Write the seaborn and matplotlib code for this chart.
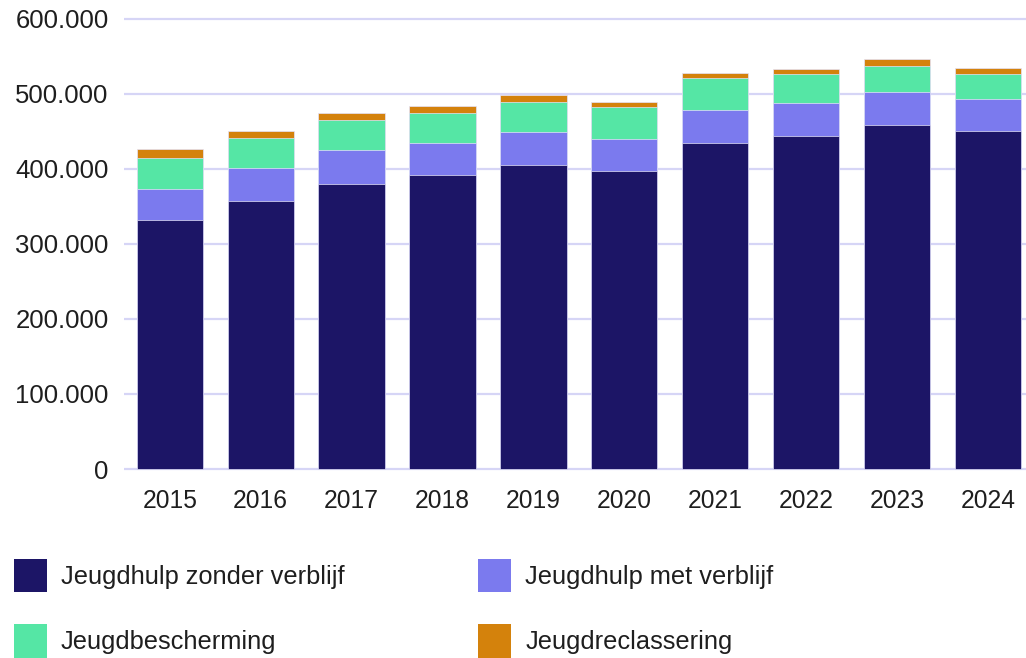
import numpy as np
import pandas as pd
import matplotlib
matplotlib.use("Agg")
import matplotlib.pyplot as plt
import seaborn as sns
from matplotlib.patches import Patch
from matplotlib.ticker import FuncFormatter

years = ["2015", "2016", "2017", "2018", "2019", "2020", "2021", "2022", "2023", "2024"]
zonder_verblijf = [331500, 357300, 379400, 391900, 405100, 397600, 434400, 443300, 457900, 450800]
met_verblijf = [42200, 43900, 45700, 42000, 43500, 42100, 43900, 43800, 43900, 42100]
bescherming = [40300, 40300, 39900, 40400, 40400, 42100, 42100, 38600, 35000, 32800]
reclassering = [12900, 9300, 9300, 9300, 9300, 7600, 7100, 7100, 8900, 8900]

series = ["Jeugdhulp zonder verblijf", "Jeugdhulp met verblijf", "Jeugdbescherming", "Jeugdreclassering"]
colors = ["#1C1566", "#7B7AEE", "#55E6A5", "#D4820C"]

df = pd.DataFrame({
    "Jaar": years,
    series[0]: zonder_verblijf,
    series[1]: met_verblijf,
    series[2]: bescherming,
    series[3]: reclassering,
})
cum = df[series].cumsum(axis=1)

sns.set_theme(style="white")
plt.rcParams["font.family"] = ["Liberation Sans", "DejaVu Sans"]
text_color = "#1e1e1e"

fig = plt.figure(figsize=(10.26, 6.58), dpi=100)
ax = fig.add_axes([0.1209, 0.2838, 0.8791, 0.6923])

# stacked bars: draw cumulative totals from top segment down
for name, color in reversed(list(zip(series, colors))):
    sns.barplot(x=df["Jaar"], y=cum[name], color=color, saturation=1, width=0.73,
                edgecolor="#E4E3FA", linewidth=0.5, ax=ax, zorder=3)

ax.set_ylim(-3000, 604000)
ax.set_xlim(-0.504, 9.42)
ax.set_yticks(np.arange(0, 600001, 100000))
ax.yaxis.set_major_formatter(FuncFormatter(lambda v, p: f"{v:,.0f}".replace(",", ".")))
ax.grid(axis="y", color="#D6D5F6", linewidth=1.6, zorder=0)
ax.grid(axis="x", visible=False)
ax.set_axisbelow(True)
for s in ax.spines.values():
    s.set_visible(False)
ax.set_xlabel("")
ax.set_ylabel("")
ax.tick_params(axis="y", length=0, pad=11, labelsize=18.5, labelcolor=text_color)
ax.tick_params(axis="x", length=0, pad=12.5, labelsize=17.7, labelcolor=text_color)

# legend filled row by row (matplotlib fills columns first)
order = [0, 2, 1, 3]
handles = [Patch(facecolor=colors[i], edgecolor="none") for i in order]
labels = [series[i] for i in order]
fig.legend(handles, labels, loc="upper left", bbox_to_anchor=(0.0136, 0.151),
           ncol=2, frameon=False, fontsize=18.3, handlelength=1.3, handleheight=1.65,
           handletextpad=0.55, columnspacing=5.26, labelspacing=1.27, borderpad=0,
           borderaxespad=0, labelcolor=text_color)

fig.savefig("out.png", dpi=100)
